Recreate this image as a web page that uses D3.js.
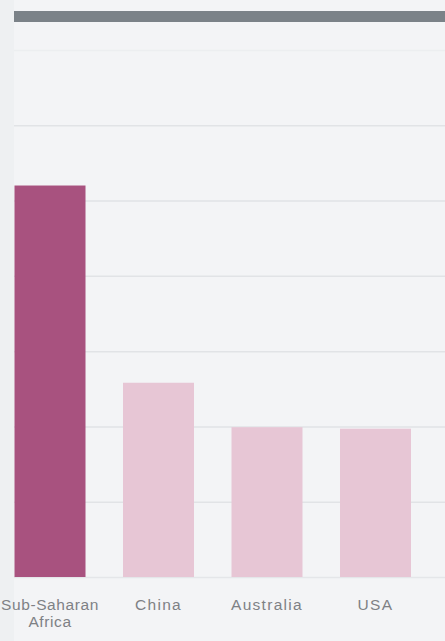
<!DOCTYPE html>
<html>
<head>
<meta charset="utf-8">
<script src="https://cdn.jsdelivr.net/npm/d3@7"></script>
<style>
  html, body { margin: 0; padding: 0; background: #f3f4f6; }
  svg { display: block; }
</style>
</head>
<body>
<svg id="chart" width="445" height="641"></svg>
<script>
const categories = ["Sub-Saharan Africa", "China", "Australia", "USA"];
const values = [5.2, 2.58, 1.99, 1.97];
const highlight = ["Sub-Saharan Africa"];
const tickValues = [0, 1, 2, 3, 4, 5, 6, 7];

const W = 445, H = 641;
const svg = d3.select("#chart");

svg.append("rect").attr("x", 0).attr("y", 0).attr("width", W).attr("height", H).attr("fill", "#f3f4f6");
svg.append("rect").attr("x", 0).attr("y", 0).attr("width", 14).attr("height", H).attr("fill", "#eef0f2");

const x = d3.scaleBand().domain(categories).range([14.5, 411]).paddingInner(0.3456).paddingOuter(0);
const y = d3.scaleLinear().domain([0, 7]).range([577, 50]);

// gridlines
const yAxis = d3.axisLeft(y).tickValues(tickValues).tickSize(-(W - 14)).tickFormat("");
const gy = svg.append("g").attr("transform", "translate(14,0)").call(yAxis);
gy.select(".domain").remove();
gy.selectAll(".tick line")
  .attr("stroke", d => d === 0 ? "#e4e6e9" : (d === 7 ? "#eceef0" : "#e1e3e6"))
  .attr("stroke-width", 1.5);

// top header rule
svg.append("rect").attr("x", 14).attr("y", 11).attr("width", W - 14).attr("height", 11).attr("fill", "#7b8288");

// bars
svg.append("g").selectAll("rect").data(categories).join("rect")
  .attr("x", d => x(d))
  .attr("width", x.bandwidth())
  .attr("y", (d, i) => y(values[i]))
  .attr("height", (d, i) => y(0) - y(values[i]))
  .attr("fill", d => highlight.includes(d) ? "#a8527f" : "#e7c6d5");

// category labels
const xAxis = d3.axisBottom(x).tickSize(0).tickFormat("");
const gx = svg.append("g").attr("transform", `translate(0,${y(0)})`).call(xAxis);
gx.select(".domain").remove();
gx.selectAll(".tick").each(function(d) {
  const first = d === "Sub-Saharan Africa";
  const t = d3.select(this).append("text")
    .attr("text-anchor", "middle")
    .attr("fill", "#7e8185")
    .style("font-family", "Liberation Sans, Arial, sans-serif")
    .style("font-size", "15.5px")
    .style("letter-spacing", first ? "0.6px" : "1.3px");
  const parts = first ? ["Sub-Saharan", "Africa"] : [d];
  parts.forEach((p, i) => {
    t.append("tspan").attr("x", 0).attr("y", 33 + i * 17).text(p);
  });
});
</script>
</body>
</html>
